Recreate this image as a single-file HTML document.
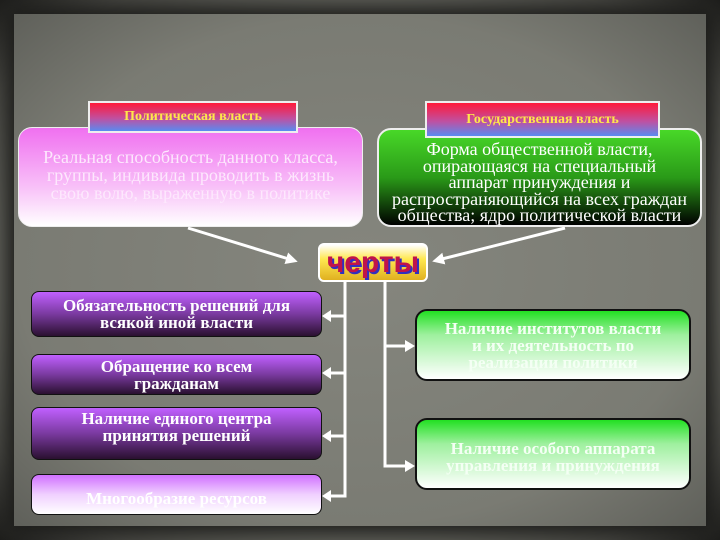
<!DOCTYPE html>
<html><head><meta charset="utf-8"><style>
body{margin:0;width:720px;height:540px;overflow:hidden;background:#222;font-family:"Liberation Serif",serif;}
.bg{position:absolute;left:0;top:0;width:720px;height:540px;background:radial-gradient(ellipse at center,#80817a 0%,#75766e 60%,#4a4a45 85%,#1e1e1c 100%);}
.panel{position:absolute;left:14px;top:14px;width:692px;height:512px;background:radial-gradient(ellipse at center,#85867e 0%,#7a7b73 70%,#5f605a 100%);box-shadow:0 0 18px 8px #1c1c1a;}
.b{position:absolute;box-sizing:border-box;text-align:center;color:#fff;display:flex;align-items:center;justify-content:center;line-height:1.0;white-space:nowrap;}
.title{background:linear-gradient(#ff1a3a,#c050a0 55%,#5a8af0);border:2px solid #eee;color:#ffe84a;font-weight:bold;font-size:14px;z-index:2;}
.pur{background:linear-gradient(#c060ff,#7a3aa0 50%,#2a1030);border:1px solid #111;border-radius:8px;font-weight:bold;font-size:17px;}
.grn{background:linear-gradient(#22e022,#9ef09e 35%,#fff);border:2px solid #111;border-radius:12px;font-weight:bold;font-size:17px;color:#f4fff4;}
.ln{position:absolute;background:#fff;}
</style></head><body>
<div class="bg"></div><div class="panel"></div>
<div class="b" style="left:18px;top:127px;width:345px;height:100px;border-radius:14px;background:linear-gradient(#f070f0,#f8c0f8 60%,#fff);border:1px solid #eee;font-size:18px;align-items:flex-start;padding-top:20px;color:#fde8fd">Реальная способность данного класса,<br>группы, индивида проводить в жизнь<br>свою волю, выраженную в политике</div>
<div class="b title" style="left:88px;top:101px;width:210px;height:32px;">Политическая власть</div>
<div class="b" style="left:377px;top:128px;width:325px;height:99px;border-radius:14px;background:linear-gradient(#48d828,#2a9a18 50%,#000);border:2px solid #eee;font-size:18px;line-height:0.92;padding-top:10px">Форма общественной власти,<br>опирающаяся на специальный<br>аппарат принуждения и<br>распространяющийся на всех граждан<br>общества; ядро политической власти</div>
<div class="b title" style="left:425px;top:101px;width:235px;height:37px;">Государственная власть</div>
<div class="b" style="left:318px;top:243px;width:110px;height:39px;border-radius:6px;background:linear-gradient(#fff,#ffe850 40%,#e0b020);border:2px solid #fff;font-family:'Liberation Sans',sans-serif;font-weight:bold;font-size:30px;color:#c0144a;text-shadow:2px 2px 0 #3030c0;">черты</div>
<svg style="position:absolute;left:0;top:0" width="720" height="540">
<defs><marker id="a" markerWidth="4" markerHeight="4" refX="2" refY="2" orient="auto"><path d="M0,0L4,2L0,4z" fill="#fff"/></marker></defs>
<g stroke="#fff" stroke-width="3" fill="none">
<line x1="188" y1="228" x2="292" y2="260" marker-end="url(#a)"/>
<line x1="565" y1="228" x2="438" y2="260" marker-end="url(#a)"/>
<polyline points="345,282 345,496 330,496"/>
<polyline points="385,282 385,466 405,466"/>
<line x1="345" y1="316" x2="330" y2="316"/>
<line x1="345" y1="373" x2="330" y2="373"/>
<line x1="345" y1="436" x2="330" y2="436"/>
<line x1="385" y1="346" x2="405" y2="346"/>
</g>
<g fill="#fff">
<path d="M322,316l9,-6v12z"/><path d="M322,373l9,-6v12z"/><path d="M322,436l9,-6v12z"/><path d="M322,496l9,-6v12z"/>
<path d="M415,346l-10,-6v12z"/><path d="M415,466l-10,-6v12z"/>
</g></svg>
<div class="b pur" style="left:31px;top:291px;width:291px;height:46px;">Обязательность решений для<br>всякой иной власти</div>
<div class="b pur" style="left:31px;top:354px;width:291px;height:41px;">Обращение ко всем<br>гражданам</div>
<div class="b pur" style="left:31px;top:407px;width:291px;height:53px;align-items:flex-start;padding-top:2px">Наличие единого центра<br>принятия решений</div>
<div class="b pur" style="left:31px;top:474px;width:291px;height:41px;background:linear-gradient(#d070ff,#f0d0ff 50%,#fff);padding-top:8px">Многообразие ресурсов</div>
<div class="b grn" style="left:415px;top:309px;width:276px;height:72px;">Наличие институтов власти<br>и их деятельность по<br>реализации политики</div>
<div class="b grn" style="left:415px;top:418px;width:276px;height:72px;padding-top:6px">Наличие особого аппарата<br>управления и принуждения</div>
</body></html>
